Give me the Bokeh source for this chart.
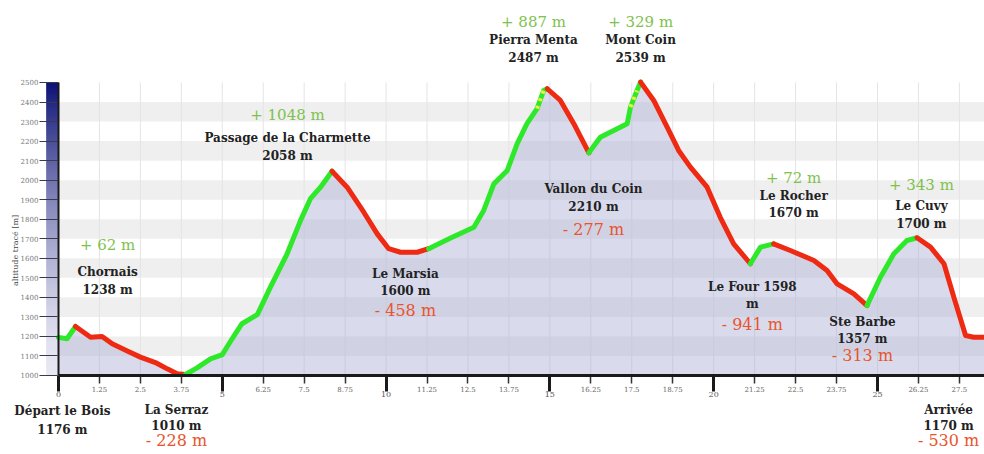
import math
from bokeh.plotting import figure
from bokeh.models import LinearAxis, FixedTicker, ColumnDataSource
from bokeh.core.properties import value
from bokeh.embed import file_html
from bokeh.resources import INLINE

# ---------------- data ----------------
dist_km = [0.0, 0.26, 0.52, 0.98, 1.33, 1.64, 2.1, 2.5, 3.0, 3.32, 3.62, 3.88,
           4.23, 4.64, 5.0, 5.3, 5.6, 6.07, 6.47, 6.98, 7.39, 7.69, 8.0, 8.35,
           8.81, 9.32, 9.73, 10.08, 10.44, 10.95, 11.3,
           11.97, 12.68, 12.98, 13.29, 13.7, 14.0, 14.3, 14.61, 14.81, 14.92,
           15.32, 15.73, 16.19,
           16.54, 16.95, 17.36, 17.46, 17.66, 17.77,
           18.17, 18.58, 18.93, 19.29, 19.8, 20.2, 20.61, 21.12,
           21.43, 21.83,
           22.34, 23.06, 23.46, 23.77, 24.28, 24.68,
           25.09, 25.5, 25.9, 26.21,
           26.62, 27.03, 27.33, 27.69, 27.94, 28.3]
elev_m = [1195, 1188, 1251, 1196, 1200, 1162, 1125, 1094, 1063, 1034, 1009, 1005,
          1039, 1085, 1107, 1188, 1265, 1312, 1452, 1623, 1794, 1905, 1964, 2046,
          1964, 1836, 1725, 1649, 1631, 1631, 1649,
          1704, 1759, 1845, 1981, 2050, 2186, 2289, 2366, 2459, 2468,
          2408, 2289, 2140,
          2220, 2254, 2289, 2374, 2459, 2502,
          2408, 2271, 2152, 2067, 1964, 1810, 1674, 1572,
          1657, 1674,
          1640, 1589, 1538, 1469, 1418, 1358,
          1503, 1623, 1691, 1705,
          1657, 1572, 1401, 1205, 1196, 1196]

waypoint_km = [0.0, 0.52, 3.88, 8.35, 11.3, 14.92, 16.19, 17.77, 21.12, 21.83, 24.68, 26.21, 28.3]
waypoint_name = ["Départ le Bois", "Chornais", "La Serraz", "Passage de la Charmette", "Le Marsia",
                 "Pierra Menta", "Vallon du Coin", "Mont Coin", "Le Four 1598", "Le Rocher",
                 "Ste Barbe", "Le Cuvy", "Arrivée"]
waypoint_alt = ["1176 m", "1238 m", "1010 m", "2058 m", "1600 m", "2487 m", "2210 m",
                "2539 m", "m", "1670 m", "1357 m", "1700 m", "1170 m"]
section_change = ["+ 62 m", "- 228 m", "+ 1048 m", "- 458 m", "+ 887 m", "- 277 m",
                  "+ 329 m", "- 941 m", "+ 72 m", "- 313 m", "+ 343 m", "- 530 m"]
steep_km = [(14.61, 14.81), (17.46, 17.66)]

x_ticks = [1.25 * i for i in range(0, 23)]
y_ticks = list(range(1000, 2600, 100))

# ---------------- layout ----------------
W, H = 984, 454
X0, X1 = -1.770, 28.267
Y0, Y1 = 595.5, 2919.8
MPP = (Y1 - Y0) / H   # metres per pixel

# label anchors (km, m) of the first line, and pixel offsets of following lines
label_anchor = {
    "Départ le Bois": (0.12, 816, [0, 19]),
    "Chornais": (1.5, 1666, [0, 27, 45]),
    "La Serraz": (3.6, 821, [0, 16, 30]),
    "Passage de la Charmette": (6.99, 2336, [0, 23, 41]),
    "Le Marsia": (10.59, 1522, [0, 17, 37]),
    "Pierra Menta": (14.5, 2812, [0, 18, 36]),
    "Vallon du Coin": (16.33, 1957, [0, 18, 41]),
    "Mont Coin": (17.77, 2812, [0, 18, 36]),
    "Le Four 1598": (21.18, 1451, [0, 17, 37]),
    "Le Rocher": (22.44, 2009, [0, 18, 35]),
    "Ste Barbe": (24.54, 1276, [0, 17, 34]),
    "Le Cuvy": (26.34, 1973, [0, 21, 39]),
    "Arrivée": (27.17, 821, [0, 16, 30]),
}

GREEN_LINE, RED_LINE, YELLOW = "#2ee82a", "#ee2a12", "#e8f23c"
GREEN_TXT, RED_TXT, DARK_TXT = "#7dc24b", "#e9542c", "#222222"
FONT_NAME = "DejaVu Serif"
FONT = value(FONT_NAME)

p = figure(width=W, height=H, x_range=(X0, X1), y_range=(Y0, Y1),
           output_backend="svg", toolbar_location=None,
           x_axis_location=None, y_axis_location=None,
           min_border=0, outline_line_color=None, background_fill_color="white")
p.grid.visible = False

x_last = dist_km[-1]

# horizontal bands
band_b = [y_ticks[i] for i in range(len(y_ticks) - 1) if i % 2 == 1]
band_t = [y_ticks[i + 1] for i in range(len(y_ticks) - 1) if i % 2 == 1]
p.quad(left=0, right=x_last, bottom=band_b, top=band_t, fill_color="#efefef", line_color=None)

# vertical grid lines
vx = [t for t in x_ticks if t > 0]
p.segment(x0=vx, y0=y_ticks[0], x1=vx, y1=y_ticks[-1], line_color="#e4e4e4", line_width=1)

# gradient bar along the y axis
n = 120
lo, hi = y_ticks[0], y_ticks[-1]
step = (hi - lo) / n
c_bot, c_top = (232, 232, 244), (12, 18, 118)
cols, bb, tt = [], [], []
for i in range(n):
    t = ((i + 0.5) / n) ** 1.5
    c = tuple(int(round(c_bot[k] + (c_top[k] - c_bot[k]) * t)) for k in range(3))
    cols.append("#%02x%02x%02x" % c)
    bb.append(lo + i * step)
    tt.append(min(hi, lo + (i + 2) * step))
p.quad(left=-0.37, right=0, bottom=bb, top=tt, fill_color=cols, line_color=None)

# area under profile
p.varea(x=dist_km, y1=y_ticks[0], y2=elev_m, fill_color="#a9acd6", fill_alpha=0.44)

# profile line, coloured by section
xs, ys, lc = [], [], []
for i in range(len(waypoint_km) - 1):
    a, b = waypoint_km[i], waypoint_km[i + 1]
    idx = [j for j, d in enumerate(dist_km) if a - 1e-9 <= d <= b + 1e-9]
    xs.append([dist_km[j] for j in idx])
    ys.append([elev_m[j] for j in idx])
    lc.append(GREEN_LINE if elev_m[idx[-1]] > elev_m[idx[0]] else RED_LINE)
p.multi_line(xs=xs, ys=ys, line_color=lc, line_width=5, line_join="round", line_cap="round")

for a, b in steep_km:
    idx = [j for j, d in enumerate(dist_km) if a - 1e-9 <= d <= b + 1e-9]
    p.line([dist_km[j] for j in idx], [elev_m[j] for j in idx], line_color=YELLOW,
           line_width=4, line_dash="3 5")

# labels
rows = {"g": dict(x=[], y=[], t=[]), "n": dict(x=[], y=[], t=[]), "r": dict(x=[], y=[], t=[])}
for i, name in enumerate(waypoint_name):
    ax, ay, offs = label_anchor[name]
    change = section_change[i - 1] if i > 0 else None
    if change is not None and change.startswith("+"):
        lines = [("g", change), ("n", name), ("n", waypoint_alt[i])]
    else:
        lines = [("n", name), ("n", waypoint_alt[i])]
        if change is not None:
            lines.append(("r", change))
    for (kind, txt), off in zip(lines, offs):
        rows[kind]["x"].append(ax)
        rows[kind]["y"].append(ay - off * MPP)
        rows[kind]["t"].append(txt)

p.text(x="x", y="y", text="t", source=ColumnDataSource(rows["g"]), text_color=GREEN_TXT,
       text_font=FONT, text_font_size="15px", text_align="center", text_baseline="middle")
p.text(x="x", y="y", text="t", source=ColumnDataSource(rows["n"]), text_color=DARK_TXT,
       text_font=FONT, text_font_size="12px", text_font_style="bold",
       text_align="center", text_baseline="middle")
p.text(x="x", y="y", text="t", source=ColumnDataSource(rows["r"]), text_color=RED_TXT,
       text_font=FONT, text_font_size="16px", text_align="center", text_baseline="middle")

# y axis label
p.text(x=[-1.31], y=[1640], text=["altitude tracé [m]"], angle=math.pi / 2,
       text_font=FONT, text_font_size="8px", text_color="#444444",
       text_align="center", text_baseline="middle")

# axes
def fmt(t):
    return ("%g" % t)

minor_t = [t for t in x_ticks if abs(t / 5 - round(t / 5)) > 1e-9]
major_t = [t for t in x_ticks if abs(t / 5 - round(t / 5)) <= 1e-9]

ax_minor = LinearAxis(fixed_location=y_ticks[0], ticker=FixedTicker(ticks=minor_t, minor_ticks=[]),
                      axis_line_color=None, major_tick_in=0, major_tick_out=8,
                      major_tick_line_width=1.5, major_tick_line_color="#333333",
                      minor_tick_line_color=None,
                      major_label_overrides={t: fmt(t) for t in minor_t},
                      major_label_text_font=FONT_NAME, major_label_text_font_size="7px",
                      major_label_text_color="#666666", major_label_standoff=3)
p.add_layout(ax_minor, "below")

ax_major = LinearAxis(fixed_location=y_ticks[0], ticker=FixedTicker(ticks=major_t, minor_ticks=[]),
                      bounds=(0, x_last), axis_line_color="#1a1a1a", axis_line_width=3,
                      major_tick_in=0, major_tick_out=16, major_tick_line_width=3,
                      major_tick_line_color="#1a1a1a", minor_tick_line_color=None,
                      major_label_overrides={t: fmt(t) for t in major_t},
                      major_label_text_font=FONT_NAME, major_label_text_font_size="8px",
                      major_label_text_color="#555555", major_label_standoff=1)
p.add_layout(ax_major, "below")

ay_ticks = LinearAxis(fixed_location=-0.37, ticker=FixedTicker(ticks=y_ticks, minor_ticks=[]),
                      bounds=(y_ticks[0], y_ticks[-1]), axis_line_color=None,
                      major_tick_in=11, major_tick_out=7, major_tick_line_color="#3a3a4a",
                      minor_tick_line_color=None,
                      major_label_text_font=FONT_NAME, major_label_text_font_size="7px",
                      major_label_text_color="#777777", major_label_standoff=1)
p.add_layout(ay_ticks, "left")

ay_line = LinearAxis(fixed_location=0, ticker=FixedTicker(ticks=[], minor_ticks=[]),
                     bounds=(y_ticks[0], y_ticks[-1]), axis_line_color="#1a1a1a", axis_line_width=2,
                     major_tick_line_color=None, minor_tick_line_color=None,
                     major_label_text_font_size="0px")
p.add_layout(ay_line, "left")

open("out.html", "w").write(file_html(p, INLINE))
